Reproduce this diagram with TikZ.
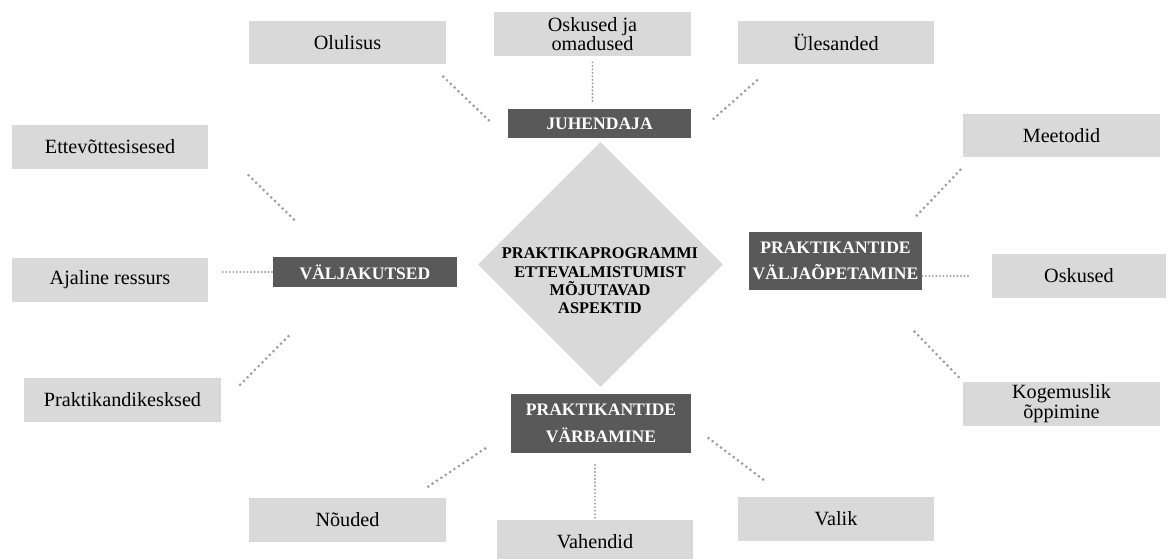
\documentclass[tikz,border=0pt]{standalone}
\usepackage{fontspec}
\setmainfont{Liberation Serif}
\usetikzlibrary{shapes.geometric}
\definecolor{boxgray}{HTML}{D9D9D9}
\definecolor{themegray}{HTML}{595959}
\definecolor{dotgray}{HTML}{9C9C9C}

\begin{document}
\begin{tikzpicture}[x=0.02cm, y=-0.02cm,
    itembox/.style={fill=boxgray, inner sep=0pt, minimum width=3.94cm, minimum height=0.88cm,
      align=center, font=\fontsize{11.5}{11}\selectfont},
    themebox/.style={fill=themegray, text=white, inner sep=0pt, align=center,
      font=\bfseries\fontsize{10}{15}\selectfont},
    hubshape/.style={diamond, fill=boxgray, inner sep=0pt, minimum width=4.9cm, minimum height=4.9cm},
    hubtext/.style={align=center, font=\bfseries\fontsize{9.3}{10.4}\selectfont},
    link/.style={draw=dotgray, line width=1.7pt, line cap=round, dash pattern=on 0pt off 3pt},
    straightlink/.style={draw=dotgray, line width=1.2pt, line cap=round, dash pattern=on 0pt off 2pt}]
    \useasboundingbox (0,0) rectangle (1173,558);
    \begin{scope}
      \node[itembox] (olulisus) at (347.5,42.5) {Olulisus};
      \node[itembox] (omadused) at (592.5,34) {Oskused ja\\omadused};
      \node[itembox] (ylesanded) at (836,42.5) {Ülesanded};
      \node[itembox] (ettevotte) at (110,147) {Ettevõttesisesed};
      \node[itembox] (ajaline) at (110,280) {Ajaline ressurs};
      \node[itembox] (praktikand) at (122.5,400) {Praktikandikesksed};
      \node[itembox] (meetodid) at (1061.5,135.5) {Meetodid};
      \node[itembox, minimum width=3.48cm] (oskused) at (1079,276) {Oskused};
      \node[itembox] (kogemuslik) at (1061.5,403.5) {Kogemuslik\\õppimine};
      \node[itembox] (nouded) at (347.5,519.5) {Nõuded};
      \node[itembox] (vahendid) at (595,542) {Vahendid};
      \node[itembox] (valik) at (836,519) {Valik};

      \node[themebox, minimum width=3.66cm, minimum height=0.58cm] (juhendaja) at (599.5,123.5) {JUHENDAJA};
      \node[themebox, minimum width=3.68cm, minimum height=0.6cm] (valjakutsed) at (365,272) {VÄLJAKUTSED};
      \node[themebox, minimum width=3.46cm, minimum height=1.16cm] (valjaopetamine) at (835.5,261) {PRAKTIKANTIDE\\VÄLJAÕPETAMINE};
      \node[themebox, minimum width=3.6cm, minimum height=1.18cm] (varbamine) at (601,423.5) {PRAKTIKANTIDE\\VÄRBAMINE};

      \node[hubshape] (hub) at (600.5,264.5) {};
      \node[hubtext] (hubtext) at (600,281) {PRAKTIKAPROGRAMMI\\ETTEVALMISTUMIST\\MÕJUTAVAD\\ASPEKTID};

      \draw[link, shorten <=0.34cm, shorten >=0.49cm] (olulisus.-15) -- (juhendaja.south west);
      \draw[straightlink, shorten <=0.12cm, shorten >=0.12cm] (omadused.south) -- (omadused.south |- juhendaja.north);
      \draw[link, shorten <=0.47cm, shorten >=0.53cm] (ylesanded.200) -- (juhendaja.south east);

      \draw[link, shorten <=1.11cm, shorten >=1.06cm] (ettevotte.6) -- (valjakutsed.155);
      \draw[straightlink, shorten <=0.28cm] (ajaline.east |- valjakutsed.west) -- (valjakutsed.west);
      \draw[link, shorten <=0.53cm, shorten >=1.36cm] (praktikand.-2) -- (valjakutsed.209);

      \draw[link, shorten <=0.33cm, shorten >=0.42cm] (meetodid.194) -- (valjaopetamine.24);
      \draw[straightlink, shorten >=0.44cm] (valjaopetamine.east |- oskused.west) -- (oskused.west);
      \draw[link, shorten <=1.15cm, shorten >=0.07cm] (valjaopetamine.-37) -- (kogemuslik.north west);

      \draw[link, shorten <=0.38cm, shorten >=0.54cm] (nouded.19) -- (varbamine.185);
      \draw[straightlink, shorten <=0.04cm, shorten >=0.2cm] (vahendid.north) -- (vahendid.north |- varbamine.south);
      \draw[link, shorten <=0.43cm, shorten >=0.49cm] (varbamine.-1) -- (valik.156);
    \end{scope}
  \end{tikzpicture}
\end{document}
